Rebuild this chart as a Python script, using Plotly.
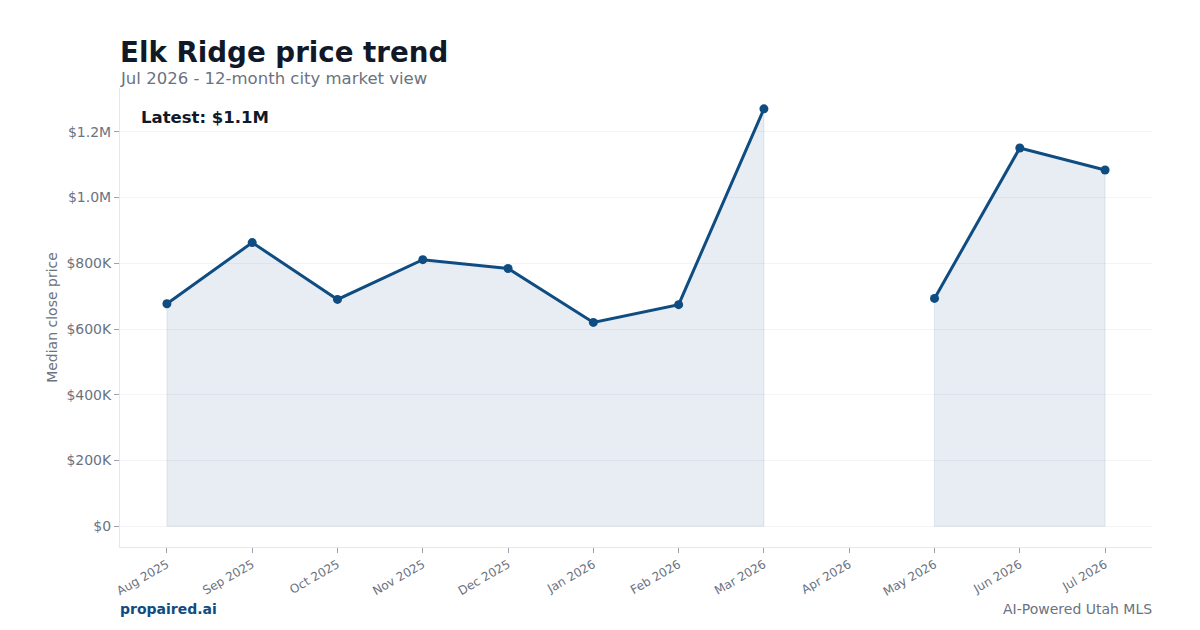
import plotly.graph_objects as go

months = ["Aug 2025", "Sep 2025", "Oct 2025", "Nov 2025", "Dec 2025", "Jan 2026",
          "Feb 2026", "Mar 2026", "Apr 2026", "May 2026", "Jun 2026", "Jul 2026"]
median_price = [677000, 863000, 690000, 811000, 784000, 620000,
                674000, 1270000, None, 693000, 1151000, 1084000]
y_tickvals = [0, 200000, 400000, 600000, 800000, 1000000, 1200000]
y_ticktext = ["$0", "$200K", "$400K", "$600K", "$800K", "$1.0M", "$1.2M"]

LINE = "#0f4c81"
GRAY = "#6b7280"
DARK = "#111827"

vals = [v for v in median_price if v is not None]
ymax = max(vals)

# split into contiguous segments (gaps break the area)
segments, cur = [], []
for m, v in zip(months, median_price):
    if v is None:
        if cur:
            segments.append(cur)
        cur = []
    else:
        cur.append((m, v))
if cur:
    segments.append(cur)

fig = go.Figure()
for seg in segments:
    sx = [p[0] for p in seg]
    sy = [p[1] for p in seg]
    fig.add_trace(go.Scatter(
        x=sx + [sx[-1], sx[0], sx[0]], y=sy + [0, 0, sy[0]],
        mode="lines", fill="toself", fillcolor="rgba(15,76,129,0.10)",
        line=dict(color="rgba(15,76,129,0.10)", width=1),
        hoverinfo="skip", showlegend=False,
    ))

fig.add_trace(go.Scatter(
    x=months, y=median_price, mode="lines+markers",
    line=dict(color=LINE, width=3),
    marker=dict(color=LINE, size=9),
    connectgaps=False, hoverinfo="x+y", showlegend=False,
))

fig.update_layout(
    width=1200, height=630,
    margin=dict(l=120, r=48, t=88, b=83),
    paper_bgcolor="white", plot_bgcolor="white",
    font=dict(family="DejaVu Sans", color=GRAY, size=13),
    xaxis=dict(
        type="category", range=[-0.55, 11.55],
        categoryorder="array", categoryarray=months,
        tickangle=-30, tickfont=dict(size=12, color=GRAY),
        ticks="outside", ticklen=5, tickcolor="#9ca3af",
        showgrid=False, showline=True, linecolor="#e5e7eb", linewidth=1,
        zeroline=False,
    ),
    yaxis=dict(
        range=[-0.05 * ymax, 1.05 * ymax],
        tickvals=y_tickvals, ticktext=y_ticktext,
        tickfont=dict(size=14, color=GRAY),
        ticks="outside", ticklen=5, tickcolor="#9ca3af",
        showgrid=True, gridcolor="#f3f4f6", gridwidth=1,
        showline=True, linecolor="#e5e7eb", linewidth=1,
        zeroline=False,
        title=dict(text="Median close price", font=dict(size=14, color=GRAY), standoff=5),
    ),
    annotations=[
        dict(text="<b>Elk Ridge price trend</b>", xref="paper", yref="paper",
             x=0, y=1, xanchor="left", yanchor="bottom", yshift=17,
             font=dict(size=27.7, color=DARK), showarrow=False, xshift=-2),
        dict(text="Jul 2026 - 12-month city market view", xref="paper", yref="paper",
             x=0, y=1, xanchor="left", yanchor="bottom", yshift=-2,
             font=dict(size=16.5, color=GRAY), showarrow=False, xshift=-2),
        dict(text="<b>Latest: $1.1M</b>", xref="paper", yref="paper",
             x=0.018, y=0.96, xanchor="left", yanchor="top",
             font=dict(size=16.5, color=DARK), showarrow=False),
        dict(text="<b>propaired.ai</b>", xref="paper", yref="paper",
             x=0, y=0, xanchor="left", yanchor="middle", yshift=-62, xshift=-2,
             font=dict(size=14, color=LINE), showarrow=False),
        dict(text="AI-Powered Utah MLS", xref="paper", yref="paper",
             x=1, y=0, xanchor="right", yanchor="middle", yshift=-62, xshift=2,
             font=dict(size=14, color=GRAY), showarrow=False),
    ],
)

fig.write_html("out.html")
